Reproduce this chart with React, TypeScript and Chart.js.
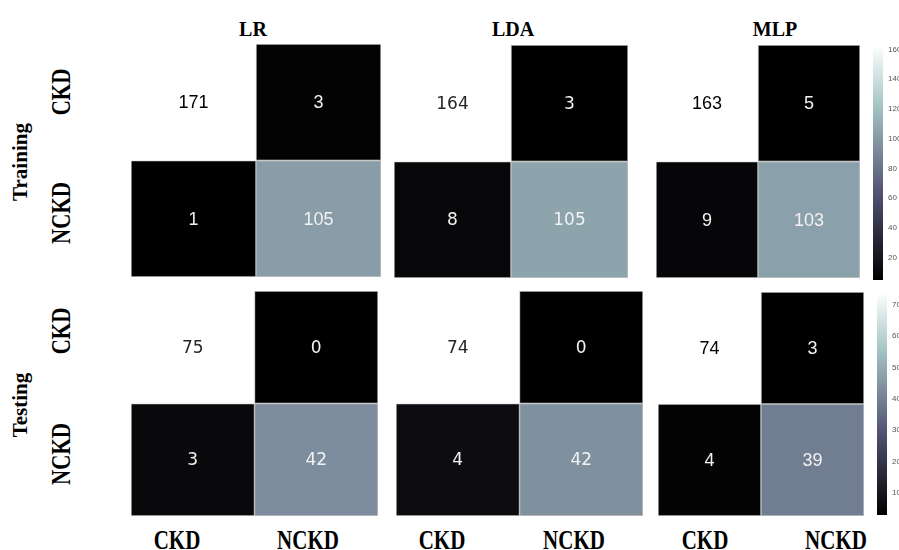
import React, { useEffect, useRef } from 'react';
import { Chart, registerables } from 'chart.js';

Chart.register(...registerables);

// ---------------- data ----------------
const classes = ['CKD', 'NCKD'];
const models = ['LR', 'LDA', 'MLP'];
const phases = ['Training', 'Testing'];

const lrTrain = [[171, 3], [1, 105]];
const ldaTrain = [[164, 3], [8, 105]];
const mlpTrain = [[163, 5], [9, 103]];
const lrTest = [[75, 0], [3, 42]];
const ldaTest = [[74, 0], [4, 42]];
const mlpTest = [[74, 3], [4, 39]];

const trainBarTicks = [20, 40, 60, 80, 100, 120, 140, 160];
const testBarTicks = [10, 20, 30, 40, 50, 60, 70];

// ---------------- colormap (matplotlib "bone") ----------------
const BONE = [
  [0, 0, 0, 0],
  [0.365079, 0.319444, 0.319444, 0.444444],
  [0.746032, 0.652778, 0.777778, 0.777778],
  [1, 1, 1, 1],
];
function rgb(r: number, g: number, b: number) {
  return `rgb(${Math.round(r * 255)},${Math.round(g * 255)},${Math.round(b * 255)})`;
}
function bone(t: number) {
  t = Math.max(0, Math.min(1, t));
  for (let i = 0; i < BONE.length - 1; i++) {
    const a = BONE[i], b = BONE[i + 1];
    if (t <= b[0]) {
      const f = (t - a[0]) / (b[0] - a[0]);
      return rgb(a[1] + f * (b[1] - a[1]), a[2] + f * (b[2] - a[2]), a[3] + f * (b[3] - a[3]));
    }
  }
  return rgb(1, 1, 1);
}

// ---------------- layout (styles) ----------------
const panels = [
  { m: lrTrain, box: { left: 131, top: 44, width: 250, height: 233 }, family: 'Liberation Sans', size: 18, dark: '#000' },
  { m: ldaTrain, box: { left: 394, top: 45, width: 234, height: 233 }, family: 'DejaVu Sans', size: 17, dark: '#262626' },
  { m: mlpTrain, box: { left: 656, top: 45, width: 204, height: 233 }, family: 'Liberation Sans', size: 18, dark: '#000' },
  { m: lrTest, box: { left: 131, top: 291, width: 247, height: 225 }, family: 'DejaVu Sans', size: 17, dark: '#262626' },
  { m: ldaTest, box: { left: 396, top: 291, width: 247, height: 225 }, family: 'DejaVu Sans', size: 17, dark: '#262626' },
  { m: mlpTest, box: { left: 658, top: 292, width: 206, height: 224 }, family: 'Liberation Sans', size: 18, dark: '#000' },
];

function Heatmap({ m, box, family, size, dark }: any) {
  const ref = useRef<HTMLCanvasElement>(null);
  useEffect(() => {
    const vals = m.flat();
    const vmin = Math.min(...vals);
    const vmax = Math.max(...vals);
    const norm = (v: number) => (v - vmin) / (vmax - vmin);
    const datasets = m.map((row: number[], r: number) => ({
      label: classes[r],
      data: row.map(() => [r, r + 1]),
      values: row,
      backgroundColor: row.map((v) => bone(norm(v))),
      borderColor: row.map((v) => (norm(v) > 0.95 ? bone(norm(v)) : 'rgba(150,150,150,0.55)')),
      borderWidth: 1,
      borderSkipped: false,
      grouped: false,
      barPercentage: 1,
      categoryPercentage: 1,
    }));
    const annot = {
      id: 'annot',
      afterDatasetsDraw(chart: any) {
        const ctx = chart.ctx;
        ctx.save();
        ctx.font = `${size}px "${family}"`;
        ctx.textAlign = 'center';
        ctx.textBaseline = 'middle';
        chart.data.datasets.forEach((ds: any, di: number) => {
          const meta = chart.getDatasetMeta(di);
          meta.data.forEach((el: any, i: number) => {
            const v = ds.values[i];
            ctx.fillStyle = norm(v) > 0.8 ? dark : '#f2f2f2';
            ctx.fillText(String(v), el.x, (el.y + el.base) / 2 + 1);
          });
        });
        ctx.restore();
      },
    };
    const chart = new Chart(ref.current!, {
      type: 'bar',
      data: { labels: classes, datasets },
      options: {
        responsive: false,
        animation: false,
        devicePixelRatio: 1,
        layout: { padding: 0 },
        plugins: { legend: { display: false }, tooltip: { enabled: false } },
        scales: {
          x: { display: false },
          y: { display: false, min: 0, max: 2, reverse: true },
        },
      },
      plugins: [annot],
    } as any);
    return () => chart.destroy();
  }, []);
  return (
    <canvas
      ref={ref}
      width={box.width}
      height={box.height}
      style={{ position: 'absolute', left: box.left, top: box.top, width: box.width, height: box.height }}
    />
  );
}

function Colorbar({ m, ticks, left, areaTop, areaBottom, axisWidth }: any) {
  const ref = useRef<HTMLCanvasElement>(null);
  const pad = 12;
  const width = 899 - left;
  const height = areaBottom - areaTop + 2 * pad;
  useEffect(() => {
    const vals = m.flat();
    const vmin = Math.min(...vals);
    const vmax = Math.max(...vals);
    const chart = new Chart(ref.current!, {
      type: 'bar',
      data: {
        labels: [''],
        datasets: [
          {
            data: [[vmin, vmax]],
            backgroundColor: (c: any) => {
              const a = c.chart.chartArea;
              if (!a) return '#000';
              const g = c.chart.ctx.createLinearGradient(0, a.bottom, 0, a.top);
              BONE.forEach((s) => g.addColorStop(s[0], rgb(s[1], s[2], s[3])));
              return g;
            },
            borderWidth: 0,
            barPercentage: 1,
            categoryPercentage: 1,
          },
        ],
      },
      options: {
        responsive: false,
        animation: false,
        devicePixelRatio: 1,
        layout: { padding: { top: pad, bottom: pad, left: 0, right: 0 } },
        plugins: { legend: { display: false }, tooltip: { enabled: false } },
        scales: {
          x: { display: false },
          y: {
            position: 'right',
            min: vmin,
            max: vmax,
            grid: { display: false, drawTicks: false },
            border: { display: false },
            ticks: { padding: 5, color: '#555', font: { size: 8, family: 'Liberation Sans' } },
            afterBuildTicks: (s: any) => {
              s.ticks = ticks.map((v: number) => ({ value: v }));
            },
            afterFit: (s: any) => {
              s.width = axisWidth;
            },
          },
        },
      },
    } as any);
    return () => chart.destroy();
  }, []);
  return (
    <canvas
      ref={ref}
      width={width}
      height={height}
      style={{ position: 'absolute', left, top: areaTop - pad, width, height }}
    />
  );
}

function Label({ x, y, text, size, rotate = false, sy = 1 }: any) {
  return (
    <div
      style={{
        position: 'absolute',
        left: x,
        top: y,
        transform: `translate(-50%,-50%)${rotate ? ' rotate(-90deg)' : ''} scale(1,${sy})`,
        font: `bold ${size}px "Liberation Serif", "Times New Roman", serif`,
        lineHeight: 1,
        whiteSpace: 'nowrap',
        color: '#000',
      }}
    >
      {text}
    </div>
  );
}

const titleX = [253, 513, 775];
const rowLabelY = [[92, 213], [331, 454]];
const phaseLabelY = [162, 405];
const bottomLabelX = [[177, 308], [442, 574], [705, 836]];

export default function App() {
  return (
    <div
      style={{
        position: 'fixed',
        left: 0,
        top: 0,
        width: 899,
        height: 550,
        background: '#fff',
        overflow: 'hidden',
      }}
    >
      {panels.map((p, i) => (
        <Heatmap key={i} {...p} />
      ))}
      <Colorbar m={mlpTrain} ticks={trainBarTicks} left={873} areaTop={45} areaBottom={280} axisWidth={16} />
      <Colorbar m={mlpTest} ticks={testBarTicks} left={877} areaTop={292} areaBottom={515} axisWidth={12} />
      {models.map((t, i) => (
        <Label key={t} x={titleX[i]} y={29} text={t} size={20} />
      ))}
      {phases.map((ph, r) => (
        <React.Fragment key={ph}>
          <Label x={20} y={phaseLabelY[r]} text={ph} size={21} rotate />
          {classes.map((c, k) => (
            <Label key={c} x={62} y={rowLabelY[r][k]} text={c} size={21} rotate sy={1.3} />
          ))}
        </React.Fragment>
      ))}
      {bottomLabelX.map((xs, i) =>
        classes.map((c, k) => <Label key={`${i}-${c}`} x={xs[k]} y={541} text={c} size={21} sy={1.3} />)
      )}
    </div>
  );
}
